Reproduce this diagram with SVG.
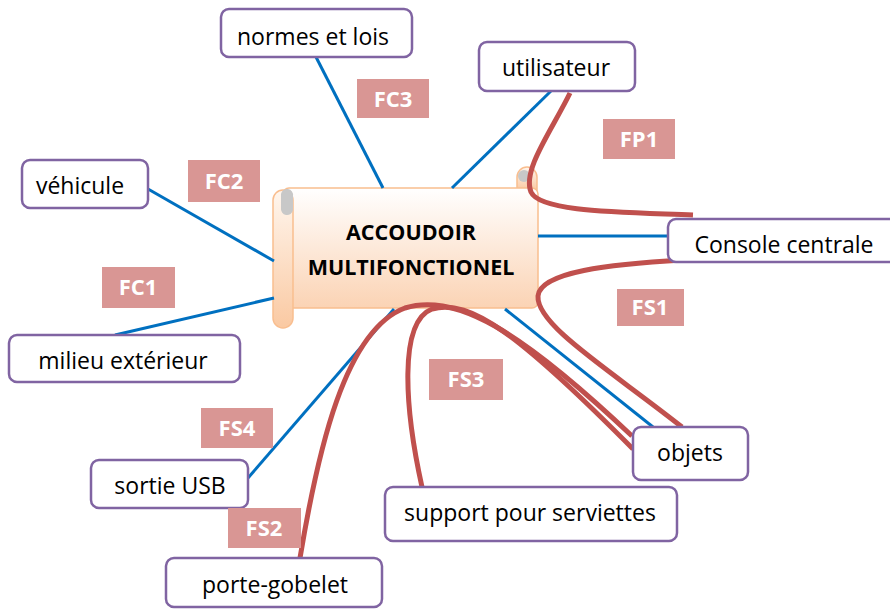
<svg xmlns="http://www.w3.org/2000/svg" width="890" height="609" viewBox="0 0 890 609">
<defs>
<linearGradient id="body" x1="0" y1="0" x2="0" y2="1">
<stop offset="0" stop-color="#FFFFFF"/>
<stop offset="1" stop-color="#FBD3B4"/>
</linearGradient>
<linearGradient id="roll" x1="0" y1="0" x2="0" y2="1">
<stop offset="0" stop-color="#FFF6EE"/>
<stop offset="1" stop-color="#FAC9A2"/>
</linearGradient>
<style>
.node rect{fill:#FFFFFF;stroke:#8064A2;stroke-width:2.5}
.node text{font-family:"Open Sans","Liberation Sans",sans-serif;font-size:23px;fill:#000;text-anchor:middle}
.lbl rect{fill:#D99694}
.lbl text{font-family:"Open Sans","Liberation Sans",sans-serif;font-size:22px;font-weight:bold;fill:#FFFFFF;text-anchor:middle}
.blue{stroke:#0070C0;stroke-width:3;fill:none}
.red{stroke:#C0504D;stroke-width:5;fill:none;stroke-linecap:butt}
.title{font-family:"Open Sans","Liberation Sans",sans-serif;font-size:21.5px;font-weight:bold;fill:#000;text-anchor:middle}
</style>
</defs>
<rect width="890" height="609" fill="#FFFFFF"/>

<g id="center">
<path d="M517,190 V177 A10,10 0 0 1 537,177 V190 Z" fill="url(#roll)" stroke="#F9BE8F" stroke-width="1.5"/>
<circle cx="524" cy="176" r="6" fill="#C8C8C8"/>
<rect x="283" y="188" width="255" height="120" rx="6" fill="url(#body)" stroke="#F9BE8F" stroke-width="1.5"/>
<rect x="273" y="190" width="20" height="138" rx="10" fill="url(#roll)" stroke="#F9BE8F" stroke-width="1.5"/>
<path d="M281,194 A6,6 0 0 1 293,196 V210 A6,6 0 0 1 281,208 Z" fill="#C8C8C8"/>
<text class="title" x="411" y="240">ACCOUDOIR</text>
<text class="title" x="411" y="275">MULTIFONCTIONEL</text>
</g>

<g id="connectors">
<line class="blue" x1="316" y1="57" x2="383" y2="188"/>
<line class="blue" x1="551" y1="91" x2="452" y2="188"/>
<line class="blue" x1="148" y1="189" x2="274" y2="261"/>
<line class="blue" x1="115" y1="335" x2="274" y2="298"/>
<line class="blue" x1="538" y1="236" x2="668" y2="236"/>
<line class="blue" x1="248" y1="478" x2="394" y2="309"/>
<line class="blue" x1="505" y1="309" x2="653" y2="427"/>
<path class="red" d="M570,93 C552,130 522,170 531,192 C540,212 620,212 693,215"/>
<path class="red" d="M683,260 C610,264 540,272 538,296 C536,325 610,370 682,427"/>
<path class="red" d="M300,558 C318,450 345,330 405,308 C455,292 520,330 632,436"/>
<path class="red" d="M422,487 C405,410 398,322 432,309 C470,298 520,335 633,449"/>
</g>

<g id="n-normes" class="node"><rect x="221" y="9" width="191" height="48" rx="8"/><text x="313" y="45">normes et lois</text></g>
<g id="n-utilisateur" class="node"><rect x="479" y="42" width="156" height="49" rx="8"/><text x="556" y="76">utilisateur</text></g>
<g id="n-vehicule" class="node"><rect x="22" y="160" width="126" height="48" rx="8"/><text x="80" y="194">véhicule</text></g>
<g id="n-milieu" class="node"><rect x="9" y="335" width="231" height="47" rx="8"/><text x="123" y="369">milieu extérieur</text></g>
<g id="n-usb" class="node"><rect x="91" y="460" width="157" height="48" rx="8"/><text x="170" y="494">sortie USB</text></g>
<g id="n-porte" class="node"><rect x="166" y="558" width="216" height="49" rx="8"/><text x="275" y="593">porte-gobelet</text></g>
<g id="n-support" class="node"><rect x="385" y="487" width="292" height="54" rx="8"/><text x="530" y="521">support pour serviettes</text></g>
<g id="n-objets" class="node"><rect x="633" y="427" width="115" height="53" rx="8"/><text x="690" y="461">objets</text></g>
<g id="n-console" class="node"><rect x="668" y="219" width="230" height="43" rx="8"/><text x="784" y="253">Console centrale</text></g>

<g id="l-fc3" class="lbl"><rect x="357" y="79" width="72" height="39"/><text x="393" y="107">FC3</text></g>
<g id="l-fp1" class="lbl"><rect x="603" y="119" width="72" height="40"/><text x="639" y="147">FP1</text></g>
<g id="l-fc2" class="lbl"><rect x="188" y="160" width="72" height="42"/><text x="224" y="189">FC2</text></g>
<g id="l-fc1" class="lbl"><rect x="102" y="267" width="73" height="41"/><text x="138" y="295">FC1</text></g>
<g id="l-fs1" class="lbl"><rect x="617" y="289" width="67" height="37"/><text x="650" y="315">FS1</text></g>
<g id="l-fs3" class="lbl"><rect x="429" y="359" width="74" height="41"/><text x="466" y="387">FS3</text></g>
<g id="l-fs4" class="lbl"><rect x="201" y="408" width="72" height="40"/><text x="237" y="436">FS4</text></g>
<g id="l-fs2" class="lbl"><rect x="228" y="508" width="73" height="40"/><text x="264" y="536">FS2</text></g>
</svg>
